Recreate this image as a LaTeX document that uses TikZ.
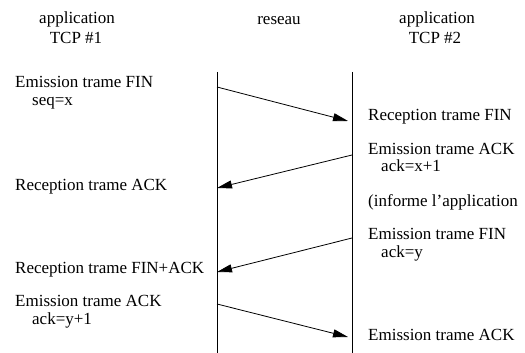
\documentclass[tikz,border=0pt]{standalone}
\usepackage{fontspec}
\setmainfont{Liberation Serif}
\usetikzlibrary{arrows.meta}
\begin{document}
\begin{tikzpicture}[x=1pt,y=-1pt,
  lbl/.style={inner sep=0pt, anchor=base west, font=\fontsize{17}{20}\selectfont},
  hdr/.style={inner sep=0pt, anchor=base, font=\fontsize{17}{20}\selectfont},
  life/.style={line width=0.9pt},
  msg/.style={line width=0.8pt, -{Triangle[length=15pt,width=8pt]}}]
\useasboundingbox (0,0) rectangle (525,353);
% headers
\node[hdr] (app1) at (77,24) {application};
\node[hdr] (tcp1) at (76,44) {TCP \#1};
\node[hdr] (res) at (279,25) {reseau};
\node[hdr] (app2) at (437,24) {application};
\node[hdr] (tcp2) at (435,44) {TCP \#2};
% lifelines
\coordinate (Ltop) at (217,72);
\coordinate (Lbot) at (217,353);
\coordinate (Rtop) at (352,72);
\coordinate (Rbot) at (352,353);
\draw[life] (Ltop) -- (Lbot);
\draw[life] (Rtop) -- (Rbot);
% message end points
\coordinate (m1s) at (217,87);
\coordinate (m1e) at (348,121);
\coordinate (m2s) at (352,155);
\coordinate (m2e) at (217,188);
\coordinate (m3s) at (352,238);
\coordinate (m3e) at (217,272);
\coordinate (m4s) at (217,304);
\coordinate (m4e) at (348,337);
\draw[msg] (m1s) -- (m1e);
\draw[msg] (m2s) -- (m2e);
\draw[msg] (m3s) -- (m3e);
\draw[msg] (m4s) -- (m4e);
% left texts
\node[lbl] (l1) at (15,88) {Emission trame FIN};
\node[lbl] (l1b) at (32,105) {seq=x};
\node[lbl] (l2) at (15,190) {Reception trame ACK};
\node[lbl] (l3) at (15,273) {Reception trame FIN+ACK};
\node[lbl] (l4) at (15,306) {Emission trame ACK};
\node[lbl] (l4b) at (32,324) {ack=y+1};
% right texts
\node[lbl] (r1) at (368,121) {Reception trame FIN};
\node[lbl] (r2) at (368,154) {Emission trame ACK};
\node[lbl] (r2b) at (381,171) {ack=x+1};
\node[lbl] (r3) at (368,206) {(informe l’application};
\node[lbl] (r4) at (368,239) {Emission trame FIN};
\node[lbl] (r4b) at (381,257) {ack=y};
\node[lbl] (r5) at (368,340) {Emission trame ACK};
\end{tikzpicture}
\end{document}
